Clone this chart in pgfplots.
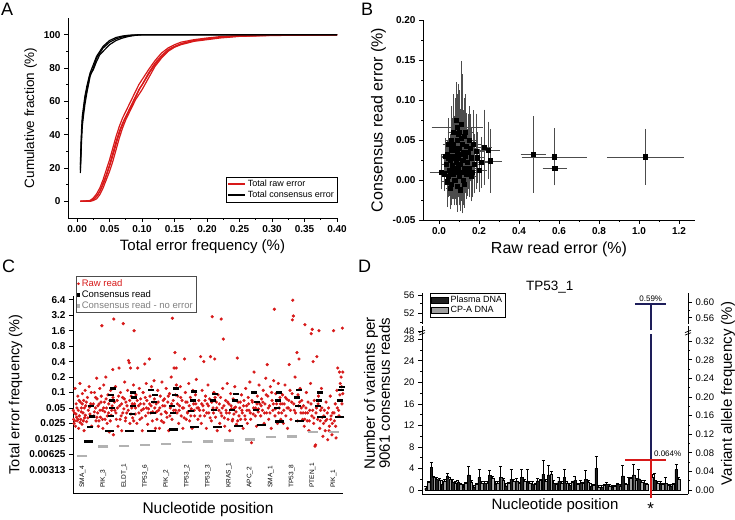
\documentclass[border=0pt]{standalone}
\usepackage{pgfplots}
\pgfplotsset{compat=1.18}
\usepackage{fontspec}
\setmainfont{Liberation Sans}
\definecolor{myred}{RGB}{215,25,25}
\definecolor{navy}{RGB}{30,30,90}
\newcommand{\fs}[1]{\fontsize{#1}{#1}\selectfont}
\begin{document}
\begin{tikzpicture}[x=1pt,y=1pt]
\useasboundingbox (0,0) rectangle (735,519);
\pgfplotsset{every axis/.append style={/pgf/number format/assume math mode=true, scale only axis, anchor=south west, tick align=outside, axis line style={line width=0.9pt}, every tick/.style={black, line width=0.7pt}, major tick length=4pt, minor tick length=2pt, scaled ticks=false}}

\node[anchor=north west, font=\fs{18}, inner sep=0pt] at (1,516) {A};
\node[anchor=north west, font=\fs{18}, inner sep=0pt] at (361,516) {B};
\node[anchor=north west, font=\fs{18}, inner sep=0pt] at (2,259) {C};
\node[anchor=north west, font=\fs{18}, inner sep=0pt] at (358,259) {D};

%%%%%%%%%%%%%%%% A
\begin{axis}[at={(68pt,301pt)}, width=269pt, height=200pt, xmin=-0.014, xmax=0.40, ymin=-10, ymax=110,
  axis x line*=bottom, axis y line*=left,
  xtick={0,0.05,0.1,0.15,0.2,0.25,0.3,0.35,0.4}, ytick={0,20,40,60,80,100},
  minor x tick num=1, minor y tick num=1,
  tick label style={font=\fs{10}\bfseries},
  xticklabel style={/pgf/number format/.cd, fixed, fixed zerofill, precision=2},
  xlabel={Total error frequency (\%)}, ylabel={Cumulative fraction (\%)},
  xlabel style={font=\fs{15}}, ylabel style={font=\fs{13.5}},
  legend style={at={(1,0.08)}, anchor=south east, font=\fs{9}, draw=black, inner sep=1pt, row sep=-1pt, cells={anchor=west}},
  legend image post style={line width=1.5pt}]
\addplot[myred, line width=1.2pt] coordinates {(0.005,0)(0.015,0)(0.02,0.3)(0.025,1)(0.03,3)(0.035,6)(0.04,11)(0.045,16)(0.05,22)(0.055,29)(0.06,36)(0.065,42)(0.07,47)(0.075,51)(0.08,55)(0.085,59)(0.09,63)(0.095,67)(0.1,70)(0.11,77)(0.12,83)(0.13,87.5)(0.14,91)(0.15,93)(0.16,94.5)(0.18,96.5)(0.2,97.5)(0.22,98.5)(0.25,99.2)(0.3,99.7)(0.4,100)};
\addlegendentry{Total raw error}
\addplot[black, line width=1.2pt] coordinates {(0.005,17)(0.006,28)(0.007,38)(0.008,45)(0.010,52)(0.012,58)(0.015,65)(0.018,71)(0.02,75)(0.025,80)(0.03,86)(0.035,89)(0.04,92)(0.05,95.5)(0.06,97.5)(0.07,98.7)(0.08,99.4)(0.09,99.8)(0.1,100)(0.4,100)};
\addlegendentry{Total consensus error}
\addplot[myred, line width=1.2pt, forget plot] coordinates {(0.005,0)(0.02,0)(0.025,0.5)(0.03,1.5)(0.035,4)(0.04,8)(0.045,13)(0.05,18)(0.055,24)(0.06,31)(0.065,38)(0.07,44)(0.075,49)(0.08,53)(0.085,57)(0.09,61)(0.095,64)(0.1,67)(0.11,74)(0.12,81)(0.13,86)(0.14,90)(0.15,92.5)(0.16,94)(0.18,96)(0.2,97)(0.22,98)(0.25,99)(0.3,99.5)(0.4,99.9)};
\addplot[myred, line width=1.2pt, forget plot] coordinates {(0.005,0)(0.02,0.5)(0.025,2)(0.03,4.5)(0.035,8)(0.04,13)(0.045,19)(0.05,25)(0.055,32)(0.06,39)(0.065,45)(0.07,50)(0.075,54)(0.08,58)(0.085,62)(0.09,66)(0.095,70)(0.1,73)(0.11,79)(0.12,84.5)(0.13,89)(0.14,92)(0.15,94)(0.16,95.5)(0.18,97)(0.2,98)(0.22,98.8)(0.25,99.4)(0.3,99.8)(0.4,100)};
\addplot[myred, line width=1.2pt, forget plot] coordinates {(0.005,0)(0.018,0)(0.022,0.5)(0.027,1.8)(0.032,4)(0.037,7.5)(0.042,12)(0.047,17.5)(0.052,23.5)(0.057,30)(0.062,37)(0.067,43)(0.072,48)(0.077,52)(0.082,56)(0.087,60)(0.092,64)(0.097,68)(0.102,71)(0.112,77.5)(0.122,83)(0.132,87.5)(0.142,91)(0.152,93)(0.162,94.8)(0.182,96.6)(0.2,97.4)(0.22,98.4)(0.25,99.1)(0.3,99.6)(0.4,100)};
\addplot[black, line width=1.2pt, forget plot] coordinates {(0.005,19)(0.006,30)(0.007,41)(0.008,48)(0.010,55)(0.012,61)(0.015,67)(0.018,72)(0.02,76)(0.025,79)(0.03,84)(0.035,88)(0.04,90)(0.05,94)(0.06,96.5)(0.07,98)(0.08,99)(0.09,99.6)(0.1,99.9)(0.4,100)};
\addplot[black, line width=1.2pt, forget plot] coordinates {(0.005,22)(0.006,34)(0.007,44)(0.008,51)(0.010,57)(0.012,63)(0.015,69)(0.018,74)(0.02,77)(0.025,82)(0.03,87)(0.035,90)(0.04,93)(0.05,96.5)(0.06,98.3)(0.07,99.2)(0.08,99.7)(0.1,100)(0.4,100)};
\end{axis}

%%%%%%%%%%%%%%%% B
\begin{axis}[at={(423pt,299pt)}, width=272pt, height=200pt, xmin=-0.08, xmax=1.28, ymin=-0.05, ymax=0.2,
  axis x line*=bottom, axis y line*=left,
  xtick={0,0.2,0.4,0.6,0.8,1.0,1.2}, ytick={-0.05,0,0.05,0.1,0.15,0.2},
  minor x tick num=1, minor y tick num=1,
  tick label style={font=\fs{10}\bfseries},
  xticklabel style={/pgf/number format/.cd, fixed, fixed zerofill, precision=1},
  yticklabel style={/pgf/number format/.cd, fixed, fixed zerofill, precision=2},
  xlabel={Raw read error (\%)}, ylabel={Consensus read error (\%)},
  label style={font=\fs{16}}]
\addplot[only marks, mark=none, gray!60!black, error bars/.cd, x dir=both, x explicit, y dir=both, y explicit,
  error bar style={gray!60!black, line width=0.5pt}, error mark options={gray!60!black, line width=0.5pt, mark size=1.5pt}]
 coordinates {
 (0.035,0.020) +- (0.015,0.022) (0.040,0.032) +- (0.020,0.015) (0.045,0.005) +- (0.018,0.025) (0.050,0.012) +- (0.012,0.030)
 (0.055,0.025) +- (0.020,0.030) (0.060,0.038) +- (0.025,0.035) (0.062,-0.005) +- (0.015,0.025) (0.065,0.018) +- (0.020,0.040)
 (0.068,0.030) +- (0.030,0.045) (0.070,0.008) +- (0.015,0.030) (0.072,0.045) +- (0.020,0.040) (0.075,0.015) +- (0.025,0.035)
 (0.078,0.000) +- (0.020,0.030) (0.080,0.028) +- (0.030,0.050) (0.082,0.040) +- (0.020,0.060) (0.085,0.010) +- (0.025,0.040)
 (0.087,0.022) +- (0.030,0.045) (0.090,0.035) +- (0.020,0.050) (0.090,-0.008) +- (0.015,0.030) (0.092,0.050) +- (0.030,0.055)
 (0.095,0.015) +- (0.025,0.035) (0.097,0.028) +- (0.020,0.040) (0.100,0.005) +- (0.030,0.035) (0.100,0.040) +- (0.020,0.045)
 (0.102,0.060) +- (0.025,0.050) (0.105,0.020) +- (0.030,0.040) (0.108,0.032) +- (0.020,0.055) (0.110,0.070) +- (0.020,0.077)
 (0.112,0.010) +- (0.025,0.035) (0.115,0.045) +- (0.030,0.085) (0.118,0.025) +- (0.020,0.040) (0.120,0.000) +- (0.025,0.030)
 (0.122,0.035) +- (0.030,0.050) (0.125,0.055) +- (0.020,0.045) (0.128,0.015) +- (0.030,0.035) (0.130,0.030) +- (0.025,0.045)
 (0.135,0.042) +- (0.030,0.040) (0.138,0.008) +- (0.020,0.030) (0.140,0.022) +- (0.035,0.040) (0.145,0.035) +- (0.025,0.045)
 (0.150,0.015) +- (0.030,0.035) (0.155,0.040) +- (0.030,0.040) (0.160,0.028) +- (0.025,0.035) (0.165,0.010) +- (0.030,0.030)
 (0.170,0.045) +- (0.035,0.040) (0.090,0.066) +- (0.120,0.030) (0.010,0.010) +- (0.050,0.020) (0.030,0.030) +- (0.015,0.020)
 (0.025,0.008) +- (0.015,0.020) (0.045,0.045) +- (0.020,0.030) (0.055,-0.010) +- (0.015,0.025) (0.070,0.060) +- (0.020,0.045)
 (0.085,0.075) +- (0.020,0.045) (0.095,0.058) +- (0.025,0.060) (0.105,-0.012) +- (0.020,0.025) (0.125,-0.005) +- (0.020,0.028)
 (0.060,0.050) +- (0.020,0.040) (0.040,-0.002) +- (0.020,0.030) (0.048,0.028) +- (0.025,0.035) (0.058,0.010) +- (0.020,0.030)
 (0.075,0.038) +- (0.025,0.040) (0.098,0.020) +- (0.030,0.040) (0.112,0.052) +- (0.025,0.050) (0.132,0.060) +- (0.030,0.045)
 (0.150,0.050) +- (0.030,0.040) (0.185,0.036) +- (0.030,0.045) (0.190,0.028) +- (0.025,0.030) (0.200,0.012) +- (0.030,0.025)
 (0.210,0.022) +- (0.035,0.030) (0.225,0.041) +- (0.030,0.045) (0.245,0.037) +- (0.050,0.034) (0.255,0.024) +- (0.050,0.038)
 (0.160,0.005) +- (0.025,0.030) (0.175,0.020) +- (0.030,0.035) (0.470,0.032) +- (0.055,0.046) (0.575,0.029) +- (0.155,0.034)
 (0.578,0.015) +- (0.053,0.018) (1.032,0.029) +- (0.185,0.033)};
\addplot[only marks, mark=square*, mark size=2.2pt, black] coordinates {
 (0.035,0.020) (0.040,0.032) (0.045,0.005) (0.050,0.012) (0.055,0.025) (0.060,0.038) (0.062,-0.005) (0.065,0.018)
 (0.068,0.030) (0.070,0.008) (0.072,0.045) (0.075,0.015) (0.078,0.000) (0.080,0.028) (0.082,0.040) (0.085,0.010)
 (0.087,0.022) (0.090,0.035) (0.090,-0.008) (0.092,0.050) (0.095,0.015) (0.097,0.028) (0.100,0.005) (0.100,0.040)
 (0.102,0.060) (0.105,0.020) (0.108,0.032) (0.110,0.070) (0.112,0.010) (0.115,0.045) (0.118,0.025) (0.120,0.000)
 (0.122,0.035) (0.125,0.055) (0.128,0.015) (0.130,0.030) (0.135,0.042) (0.138,0.008) (0.140,0.022) (0.145,0.035)
 (0.150,0.015) (0.155,0.040) (0.160,0.028) (0.165,0.010) (0.170,0.045) (0.090,0.066) (0.010,0.010) (0.030,0.030)
 (0.025,0.008) (0.045,0.045) (0.055,-0.010) (0.070,0.060) (0.085,0.075) (0.095,0.058) (0.105,-0.012) (0.125,-0.005)
 (0.060,0.050) (0.040,-0.002) (0.048,0.028) (0.058,0.010) (0.075,0.038) (0.098,0.020) (0.112,0.052) (0.132,0.060)
 (0.150,0.050) (0.185,0.036) (0.190,0.028) (0.200,0.012) (0.210,0.022) (0.225,0.041) (0.245,0.037) (0.255,0.024)
 (0.160,0.005) (0.175,0.020) (0.470,0.032) (0.575,0.029) (0.578,0.015) (1.032,0.029)};
\end{axis}

%%%%%%%%%%%%%%%% C
\begin{axis}[at={(73pt,26pt)}, width=270pt, height=197pt, xmin=-0.45, xmax=12.45, ymode=log, log basis y=2, ymin=0.0011, ymax=7.6,
  axis x line*=bottom, axis y line*=left, xtick=\empty, clip=false,
  ytick={0.003125,0.00625,0.0125,0.025,0.05,0.1,0.2,0.4,0.8,1.6,3.2,6.4},
  yticklabels={0.00313,0.00625,0.0125,0.025,0.05,0.1,0.2,0.4,0.8,1.6,3.2,6.4},
  tick label style={font=\fs{10}\bfseries},
  xlabel={Nucleotide position}, ylabel={Total error frequency (\%)},
  xlabel style={font=\fs{15.5}, yshift=-2pt}, ylabel style={font=\fs{14.5}},
  legend style={at={(0.011,1.10)}, anchor=north west, font=\fs{9.5}, draw=black!70, inner sep=1pt, row sep=-1.5pt, cells={anchor=west}}]
\addplot[only marks, mark=*, mark size=1.4pt, myred, legend image code/.code={\fill[myred] (0.2cm,0cm) circle (1.1pt);}] coordinates {
(-0.42,0.030)(-0.40,0.025)(-0.38,0.040)(-0.35,0.12)(-0.33,0.022)(-0.30,0.060)(-0.28,0.033)(-0.25,0.028)(-0.22,0.085)(-0.20,0.045)(-0.18,0.020)(-0.15,0.035)(-0.12,0.150)(-0.10,0.065)(-0.08,0.030)(-0.05,0.050)(-0.02,0.024)(0.00,0.095)(0.03,0.040)(0.06,0.070)(0.08,0.018)(0.10,0.032)(0.13,0.110)(0.16,0.055)(0.20,0.027)(0.24,0.080)(0.28,0.045)(0.32,0.130)(0.36,0.038)(0.40,0.060)(0.44,0.022)
(-0.44,0.045)(-0.36,0.028)(-0.31,0.038)(-0.26,0.050)(-0.21,0.030)(-0.16,0.070)(-0.11,0.026)(-0.06,0.042)(-0.01,0.060)(0.04,0.028)(0.09,0.050)(0.14,0.036)(0.19,0.065)(0.26,0.032)(0.34,0.052)(0.42,0.100)
(0.55,0.035)(0.58,0.10)(0.62,0.050)(0.65,0.028)(0.68,0.19)(0.70,0.075)(0.73,0.040)(0.76,0.022)(0.80,0.060)(0.83,0.120)(0.86,0.033)(0.90,0.085)(0.93,2.0)(0.95,0.045)(0.98,0.020)(1.02,0.140)(1.05,0.065)(1.08,0.030)(1.12,0.200)(1.15,0.050)(1.18,0.025)(1.22,0.090)(1.25,0.040)(1.28,0.017)(1.32,0.070)(1.35,0.110)(1.38,0.036)(1.42,0.055)(1.45,0.28)(1.48,0.015)
(0.52,0.060)(0.57,0.042)(0.63,0.080)(0.69,0.033)(0.74,0.055)(0.79,0.028)(0.84,0.045)(0.89,0.065)(0.96,0.030)(1.01,0.050)(1.07,0.042)(1.13,0.075)(1.19,0.035)(1.26,0.060)(1.33,0.028)(1.40,0.045)(1.46,0.080)
(1.50,2.7)(1.55,0.045)(1.58,0.130)(1.62,0.030)(1.66,0.070)(1.70,0.022)(1.75,0.30)(1.78,0.055)(1.82,0.100)(1.85,0.035)(1.88,0.018)(1.92,0.080)(1.95,2.2)(1.98,0.048)(2.02,0.160)(2.05,0.028)(2.08,0.065)(2.12,0.040)(2.16,0.110)(2.20,0.42)(2.24,0.38)(2.27,0.025)(2.30,0.30)(2.33,0.085)(2.36,0.050)(2.40,0.032)(2.44,0.14)(2.47,1.6)(2.49,0.060)
(1.53,0.065)(1.60,0.040)(1.67,0.050)(1.73,0.085)(1.80,0.030)(1.87,0.060)(1.93,0.040)(2.00,0.075)(2.07,0.032)(2.13,0.055)(2.19,0.045)(2.26,0.070)(2.32,0.038)(2.38,0.060)(2.45,0.028)
(2.52,0.038)(2.56,0.090)(2.60,0.025)(2.64,0.30)(2.68,0.055)(2.72,0.120)(2.75,0.030)(2.78,0.075)(2.82,0.045)(2.86,0.018)(2.90,0.100)(2.94,0.060)(2.98,0.36)(3.02,0.035)(3.05,0.150)(3.08,0.070)(3.12,0.024)(3.16,0.048)(3.20,0.45)(3.23,0.085)(3.26,0.040)(3.30,0.130)(3.34,0.028)(3.38,0.065)(3.42,0.170)(3.46,0.050)(3.49,0.020)
(2.54,0.050)(2.62,0.070)(2.70,0.040)(2.77,0.060)(2.84,0.032)(2.92,0.048)(3.00,0.080)(3.06,0.050)(3.14,0.040)(3.21,0.060)(3.28,0.055)(3.36,0.042)(3.44,0.075)
(3.52,0.060)(3.56,0.030)(3.60,0.110)(3.64,0.045)(3.68,0.020)(3.72,0.085)(3.76,0.038)(3.80,0.160)(3.84,0.055)(3.88,0.026)(3.92,0.075)(3.96,0.042)(4.00,0.120)(4.04,0.033)(4.08,0.065)(4.12,0.018)(4.16,0.095)(4.20,0.050)(4.24,0.200)(4.28,0.030)(4.30,2.8)(4.34,0.070)(4.38,0.30)(4.42,0.60)(4.45,0.045)(4.48,0.30)(4.49,0.140)
(3.54,0.042)(3.62,0.065)(3.70,0.050)(3.78,0.028)(3.86,0.070)(3.94,0.055)(4.02,0.040)(4.10,0.085)(4.18,0.035)(4.26,0.060)(4.36,0.045)(4.44,0.090)
(4.52,0.040)(4.56,0.085)(4.60,0.025)(4.64,0.055)(4.68,0.130)(4.72,0.035)(4.76,0.070)(4.80,0.020)(4.84,0.050)(4.88,0.45)(4.92,0.100)(4.96,0.030)(5.00,0.065)(5.04,0.042)(5.08,0.150)(5.12,0.028)(5.16,0.080)(5.20,0.048)(5.24,0.020)(5.28,0.110)(5.32,0.060)(5.36,0.035)(5.40,0.090)(5.44,0.180)(5.48,0.050)
(4.54,0.060)(4.62,0.045)(4.70,0.080)(4.78,0.050)(4.86,0.032)(4.94,0.065)(5.02,0.040)(5.10,0.055)(5.18,0.035)(5.26,0.070)(5.34,0.045)(5.42,0.060)
(5.52,0.030)(5.56,0.070)(5.60,0.045)(5.65,0.50)(5.68,0.025)(5.72,0.110)(5.76,0.055)(5.80,0.40)(5.84,0.035)(5.88,0.085)(5.92,0.020)(5.96,0.060)(6.00,0.140)(6.04,0.040)(6.08,0.075)(6.12,0.50)(6.16,0.028)(6.20,3.0)(6.24,0.050)(6.28,0.100)(6.32,0.45)(6.36,0.033)(6.40,0.065)(6.44,0.018)(6.48,0.090)
(5.54,0.050)(5.62,0.035)(5.70,0.060)(5.78,0.045)(5.86,0.070)(5.94,0.040)(6.02,0.055)(6.10,0.032)(6.18,0.065)(6.26,0.040)(6.34,0.080)(6.42,0.050)
(6.52,0.045)(6.56,0.025)(6.60,0.080)(6.63,2.7)(6.66,0.035)(6.70,0.120)(6.73,1.1)(6.76,0.055)(6.80,0.022)(6.84,0.070)(6.88,0.040)(6.92,0.150)(6.96,0.030)(7.00,0.060)(7.04,0.018)(7.08,0.095)(7.12,0.048)(7.16,0.028)(7.20,0.075)(7.24,0.038)(7.28,0.130)(7.32,0.052)(7.36,0.024)(7.40,0.47)(7.44,0.065)(7.48,0.035)
(6.54,0.060)(6.62,0.040)(6.68,0.050)(6.78,0.032)(6.86,0.045)(6.94,0.065)(7.02,0.040)(7.10,0.055)(7.18,0.030)(7.26,0.050)(7.34,0.042)(7.42,0.028)
(7.52,0.050)(7.56,0.030)(7.60,0.090)(7.64,0.040)(7.68,0.020)(7.72,0.070)(7.76,0.035)(7.80,0.120)(7.84,0.055)(7.88,0.025)(7.92,0.080)(7.96,0.045)(8.00,0.160)(8.04,0.030)(8.08,0.0105)(8.12,0.065)(8.16,0.038)(8.20,0.25)(8.24,0.100)(8.28,0.050)(8.32,0.022)(8.36,0.085)(8.40,0.042)(8.44,0.140)(8.48,0.060)
(7.54,0.065)(7.62,0.045)(7.70,0.055)(7.78,0.030)(7.86,0.045)(7.94,0.060)(8.02,0.040)(8.10,0.070)(8.18,0.050)(8.26,0.035)(8.34,0.060)(8.42,0.048)
(8.52,0.035)(8.56,0.075)(8.60,0.045)(8.64,0.110)(8.68,0.025)(8.72,0.060)(8.76,0.190)(8.80,0.040)(8.83,0.35)(8.86,0.085)(8.90,0.030)(8.94,0.055)(8.98,0.130)(9.02,0.020)(9.06,0.070)(9.10,0.045)(9.14,0.170)(9.17,4.2)(9.20,0.035)(9.24,0.095)(9.28,0.060)(9.32,0.025)(9.36,0.150)(9.40,0.050)(9.44,0.080)(9.48,0.030)
(8.54,0.055)(8.62,0.065)(8.70,0.040)(8.78,0.090)(8.88,0.050)(8.96,0.040)(9.04,0.100)(9.12,0.060)(9.22,0.048)(9.30,0.070)(9.38,0.040)(9.46,0.060)
(9.52,0.040)(9.56,0.090)(9.60,0.025)(9.64,0.060)(9.68,0.140)(9.72,0.035)(9.76,0.075)(9.80,0.020)(9.84,0.050)(9.88,0.35)(9.92,0.110)(9.96,0.030)(10.00,0.065)(10.03,2.6)(10.05,6.3)(10.08,3.1)(10.12,0.045)(10.16,0.200)(10.20,0.080)(10.25,0.60)(10.28,0.028)(10.32,0.055)(10.35,0.45)(10.40,0.120)(10.44,0.040)(10.48,0.070)
(9.54,0.060)(9.62,0.045)(9.70,0.080)(9.78,0.050)(9.86,0.070)(9.94,0.045)(10.02,0.095)(10.10,0.060)(10.18,0.040)(10.30,0.090)(10.38,0.065)(10.46,0.050)
(10.52,0.030)(10.56,0.055)(10.60,0.022)(10.63,2.1)(10.66,0.040)(10.70,0.100)(10.74,0.028)(10.78,0.065)(10.82,0.018)(10.86,0.045)(10.90,0.150)(10.93,1.4)(10.96,0.035)(10.98,1.7)(11.02,0.40)(11.05,0.025)(11.08,0.070)(11.11,0.009)(11.14,0.0095)(11.18,0.050)(11.20,0.50)(11.24,0.030)(11.28,0.085)(11.30,1.6)(11.34,0.020)(11.38,0.045)(11.42,0.120)(11.46,0.033)(11.49,0.014)
(10.54,0.040)(10.62,0.030)(10.68,0.050)(10.76,0.040)(10.84,0.028)(10.92,0.060)(11.00,0.045)(11.06,0.032)(11.16,0.040)(11.26,0.060)(11.36,0.028)(11.44,0.050)
(11.52,0.025)(11.56,0.045)(11.60,0.018)(11.64,0.065)(11.68,0.030)(11.72,0.012)(11.76,0.050)(11.80,0.022)(11.84,0.085)(11.88,0.035)(11.92,0.015)(11.96,0.040)(12.00,1.6)(12.04,0.028)(12.08,0.060)(12.12,0.013)(12.16,0.110)(12.20,0.30)(12.24,0.045)(12.28,0.25)(12.32,0.150)(12.35,0.070)(12.38,0.130)(12.42,1.8)(12.44,0.095)
(11.54,0.035)(11.62,0.028)(11.70,0.040)(11.78,0.018)(11.86,0.030)(11.94,0.025)(12.02,0.040)(12.10,0.022)(12.18,0.050)(12.26,0.035)(12.30,0.090)(12.36,0.200)(12.40,0.060)(12.44,0.250)};
\addlegendentry{\textcolor{myred}{Raw read}}
\addplot[only marks, mark=-, mark size=3pt, black, mark options={line width=2.2pt}, legend image code/.code={\fill[black] (0.16cm,-0.05cm) rectangle (0.24cm,0.05cm);}] coordinates {
(0.35,0.021)(0.45,0.034)(0.42,0.055)
(1.35,0.035)(1.42,0.05)(1.40,0.07)(1.45,0.12)(1.38,0.09)
(2.35,0.038)(2.40,0.055)(2.42,0.1)(2.45,0.08)
(3.35,0.04)(3.42,0.065)(3.45,0.09)(3.3,0.11)
(4.35,0.04)(4.3,0.055)(4.4,0.09)(4.45,0.12)
(5.2,0.044)(5.3,0.07)(5.35,0.105)
(6.3,0.045)(6.25,0.07)(6.35,0.095)
(7.15,0.045)(7.3,0.07)(7.35,0.095)
(8.3,0.045)(8.35,0.065)(8.2,0.1)
(9.3,0.05)(9.35,0.07)(9.4,0.1)
(10.3,0.055)(10.35,0.11)(10.25,0.08)
(11.3,0.07)(11.35,0.1)(11.25,0.055)
(12.3,0.07)(12.35,0.11)(12.4,0.13)};
\addlegendentry{Consensus read}
\addplot[only marks, mark=-, mark size=5pt, gray!60, mark options={line width=2.6pt}, legend image code/.code={\fill[gray!60] (0.16cm,-0.05cm) rectangle (0.24cm,0.05cm);}] coordinates {
(0,0.0058)(1,0.0088)(2,0.009)(3,0.0095)(4,0.010)(5,0.0108)(6,0.011)(7,0.0115)(8,0.012)(9,0.0135)(10,0.014)(11,0.017)(12,0.017)};
\addlegendentry{\textcolor{gray}{Consensus read - no error}}
\addplot[only marks, mark=-, mark size=4.5pt, black, mark options={line width=2.4pt}, forget plot] coordinates {
(0.27,0.011)(1.27,0.018)(2.27,0.018)(3.3,0.018)(4.35,0.019)(5.35,0.021)(6.45,0.021)(7.45,0.022)(8.55,0.023)(9.4,0.027)(10.35,0.028)(11.4,0.033)(12.3,0.033)};
\node[rotate=90, anchor=west, font=\fs{6.5}, inner sep=0pt] at (axis cs:0,0.0014) {SMA\_4};
\node[rotate=90, anchor=west, font=\fs{6.5}, inner sep=0pt] at (axis cs:1,0.0014) {PIK\_3};
\node[rotate=90, anchor=west, font=\fs{6.5}, inner sep=0pt] at (axis cs:2,0.0014) {ELDT\_1};
\node[rotate=90, anchor=west, font=\fs{6.5}, inner sep=0pt] at (axis cs:3,0.0014) {TP53\_6};
\node[rotate=90, anchor=west, font=\fs{6.5}, inner sep=0pt] at (axis cs:4,0.0014) {PIK\_2};
\node[rotate=90, anchor=west, font=\fs{6.5}, inner sep=0pt] at (axis cs:5,0.0014) {TP53\_2};
\node[rotate=90, anchor=west, font=\fs{6.5}, inner sep=0pt] at (axis cs:6,0.0014) {TP53\_3};
\node[rotate=90, anchor=west, font=\fs{6.5}, inner sep=0pt] at (axis cs:7,0.0014) {KRAS\_1};
\node[rotate=90, anchor=west, font=\fs{6.5}, inner sep=0pt] at (axis cs:8,0.0014) {APC\_2};
\node[rotate=90, anchor=west, font=\fs{6.5}, inner sep=0pt] at (axis cs:9,0.0014) {SMA\_1};
\node[rotate=90, anchor=west, font=\fs{6.5}, inner sep=0pt] at (axis cs:10,0.0014) {TP53\_8};
\node[rotate=90, anchor=west, font=\fs{6.5}, inner sep=0pt] at (axis cs:11,0.0014) {PTEN\_1};
\node[rotate=90, anchor=west, font=\fs{6.5}, inner sep=0pt] at (axis cs:12,0.0014) {PIK\_1};
\end{axis}

%%%%%%%%%%%%%%%% D (right axis)
\begin{axis}[at={(422pt,25pt)}, width=266pt, height=201pt, xmin=0, xmax=50, ymin=-0.75, ymax=36.6,
  axis x line=none, axis y line*=right, yticklabel pos=right, ylabel near ticks,
  ytick={0,3.456,6.912,10.368,13.824,17.28,20.736,24.192,27.648,32.0,34.8},
  yticklabels={0.00,0.04,0.08,0.12,0.16,0.20,0.24,0.28,0.32,0.56,0.60},
  minor ytick={1.728,5.184,8.64,12.096,15.552,19.008,22.464,25.92,33.4},
  tick label style={font=\fs{9.5}},
  ylabel={Variant allele frequency (\%)}, label style={font=\fs{15}}]
\addplot[draw=none] coordinates {(1,0)};
\end{axis}

%%%%%%%%%%%%%%%% D (main)
\begin{axis}[at={(422pt,25pt)}, width=266pt, height=201pt, xmin=0, xmax=50, ymin=-0.75, ymax=36.6,
  axis x line*=bottom, axis y line*=left, clip=false,
  xtick=\empty,
  ytick={0,4,8,12,16,20,24,28,29.55,32.9,36.2},
  yticklabels={0,4,8,12,16,20,24,28,48,52,56},
  minor ytick={2,6,10,14,18,22,26,31.2,34.6},
  tick label style={font=\fs{9.5}},
  xlabel={Nucleotide position}, ylabel={Number of variants per\\9061 consensus reads},
  ylabel style={align=center, font=\fs{15}, yshift=7pt}, xlabel style={font=\fs{15}, yshift=3pt},
  legend style={at={(0.03,1)}, anchor=north west, font=\fs{9}, draw=black, inner sep=1pt, row sep=-2pt, cells={anchor=west}}]
\addplot[ybar, bar width=2.5pt, bar shift=0pt, fill=black!88, draw=black, line width=0.3pt,
  legend image code/.code={\draw[fill=black!88, draw=black] (0cm,-0.09cm) rectangle (0.6cm,0.12cm);},
  error bars/.cd, y dir=plus, y explicit, error bar style={black, line width=0.8pt}, error mark options={rotate=90, black, line width=0.8pt, mark size=1.5pt}]
  coordinates {
  (0.75,0.3)+-(0,0.3) (1.75,4.2)+-(0,0.9) (2.75,2.0)+-(0,0.3) (3.75,1.0)+-(0,0.7) (4.75,2.6)+-(0,0.4) (5.75,1.5)+-(0,0.5)
  (6.75,1.4)+-(0,0.4) (7.75,0.6)+-(0,0.4) (8.75,2.8)+-(0,1.5) (9.75,0.6)+-(0,0.3) (10.75,2.3)+-(0,1.5) (11.75,1.2)+-(0,0.4)
  (12.75,2.7)+-(0,0.9) (13.75,1.1)+-(0,0.4) (14.75,2.3)+-(0,2.0) (15.75,0.8)+-(0,0.5) (16.75,2.0)+-(0,1.8) (17.75,1.7)+-(0,0.5)
  (18.75,2.4)+-(0,1.5) (19.75,1.4)+-(0,2.5) (20.75,1.1)+-(0,0.5) (21.75,1.7)+-(0,0.5) (22.75,2.9)+-(0,2.6) (23.75,2.8)+-(0,1.8)
  (24.75,1.2)+-(0,0.6) (25.75,1.6)+-(0,0.8) (26.75,2.3)+-(0,1.6) (27.75,0.9)+-(0,0.4) (28.75,1.8)+-(0,0.8) (29.75,1.2)+-(0,0.5)
  (30.75,2.0)+-(0,1.6) (31.75,0.7)+-(0,0.5) (32.75,4.0)+-(0,2.2) (33.75,0.5)+-(0,0.4) (34.75,1.1)+-(0,0.3) (35.75,0.6)+-(0,0.3)
  (36.75,1.0)+-(0,0.3) (37.75,2.6)+-(0,2.0) (38.75,1.1)+-(0,1.2) (39.75,2.8)+-(0,2.0) (40.75,2.1)+-(0,1.7) (41.75,1.2)+-(0,0.6)
  (43.75,1.8)+-(0,1.2) (44.75,1.1)+-(0,0.5) (45.75,1.2)+-(0,1.2) (46.75,0.8)+-(0,0.3) (47.75,3.8)+-(0,1.0)};
\addlegendentry{Plasma DNA}
\addplot[ybar, bar width=2.5pt, bar shift=0pt, fill=gray!75, draw=black, line width=0.3pt,
  legend image code/.code={\draw[fill=gray!75, draw=black] (0cm,-0.09cm) rectangle (0.6cm,0.12cm);},
  error bars/.cd, y dir=plus, y explicit, error bar style={black, line width=0.8pt}, error mark options={rotate=90, black, line width=0.8pt, mark size=1.5pt}]
  coordinates {
  (1.25,1.4)+-(0,0.2) (2.25,2.3)+-(0,0.3) (3.25,1.9)+-(0,0.2) (4.25,1.7)+-(0,0.3) (5.25,2.0)+-(0,0.4) (6.25,1.2)+-(0,0.3)
  (7.25,1.0)+-(0,0.3) (8.25,1.2)+-(0,0.2) (9.25,1.5)+-(0,0.3) (10.25,1.0)+-(0,0.2) (11.25,1.3)+-(0,0.2) (12.25,1.2)+-(0,0.3)
  (13.25,2.2)+-(0,0.3) (14.25,1.3)+-(0,0.2) (15.25,1.9)+-(0,0.3) (16.25,1.2)+-(0,0.2) (17.25,1.6)+-(0,0.4) (18.25,1.2)+-(0,0.2)
  (19.25,1.6)+-(0,0.3) (20.25,1.3)+-(0,0.2) (21.25,1.1)+-(0,0.2) (22.25,1.8)+-(0,0.2) (23.25,1.6)+-(0,0.3) (24.25,3.0)+-(0,0.4)
  (25.25,1.1)+-(0,0.2) (26.25,1.3)+-(0,0.2) (27.25,1.2)+-(0,0.3) (28.25,1.4)+-(0,0.2) (29.25,1.1)+-(0,0.2) (30.25,1.2)+-(0,0.2)
  (31.25,1.4)+-(0,0.3) (32.25,0.9)+-(0,0.2) (33.25,0.6)+-(0,0.3) (34.25,0.9)+-(0,0.2) (35.25,0.8)+-(0,0.2) (36.25,0.7)+-(0,0.2)
  (37.25,0.8)+-(0,0.2) (38.25,1.0)+-(0,0.2) (39.25,2.2)+-(0,0.2) (40.25,1.9)+-(0,0.3) (41.25,1.5)+-(0,0.3) (42.25,1.0)+-(0,0.3)
  (43.25,2.4)+-(0,0.5) (44.25,1.2)+-(0,0.3) (45.25,1.0)+-(0,0.2) (46.25,0.9)+-(0,0.2) (47.25,1.0)+-(0,0.2) (48.25,2.0)+-(0,0.3)};
\addlegendentry{CP-A DNA}
\addplot[navy, line width=1.8pt, forget plot] coordinates {(43,0) (43,29.0)};
\addplot[navy, line width=1.8pt, forget plot] coordinates {(43,29.7) (43,34.6)};
\addplot[navy, line width=1.5pt, forget plot] coordinates {(40.0,34.6) (45.9,34.6)};
\addplot[myred, line width=2.4pt, forget plot] coordinates {(43,-1.4) (43,5.6)};
\addplot[myred, line width=1.5pt, forget plot] coordinates {(38.2,5.6) (45.9,5.6)};
\node[font=\fs{8}, anchor=south, inner sep=1pt] at (axis cs:43,34.8) {0.59\%};
\node[font=\fs{8}, anchor=south west, inner sep=1pt] at (axis cs:43.4,5.9) {0.064\%};
\node[font=\fs{17}] at (axis cs:43,-3.4) {*};
\node[font=\fs{13.5}] at (axis cs:24,37.6) {TP53\_1};
\fill[white] (axis cs:0,29.0) ++(-3pt,0) rectangle ++(6pt,2.5pt);
\draw[line width=0.7pt] (axis cs:0,29.0) ++(-3pt,-1.2pt) -- ++(6pt,2.4pt);
\draw[line width=0.7pt] (axis cs:0,29.0) ++(-3pt,1.3pt) -- ++(6pt,2.4pt);
\fill[white] (axis cs:50,29.0) ++(-3pt,0) rectangle ++(6pt,2.5pt);
\draw[line width=0.7pt] (axis cs:50,29.0) ++(-3pt,-1.2pt) -- ++(6pt,2.4pt);
\draw[line width=0.7pt] (axis cs:50,29.0) ++(-3pt,1.3pt) -- ++(6pt,2.4pt);
\end{axis}
\end{tikzpicture}
\end{document}
